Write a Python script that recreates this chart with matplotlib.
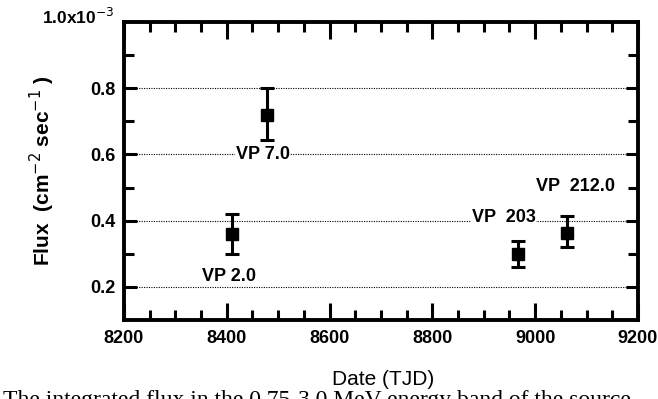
import numpy as np
import matplotlib
matplotlib.use('Agg')
import matplotlib.pyplot as plt
from matplotlib.ticker import MultipleLocator

# observations (flux in units of 1e-3 cm^-2 s^-1)
dates = [8411, 8478, 8966, 9061]
flux = [0.36, 0.718, 0.30, 0.364]
err_lo = [0.06, 0.075, 0.04, 0.044]
err_hi = [0.06, 0.082, 0.04, 0.050]
labels = ['VP 2.0', 'VP 7.0', 'VP  203', 'VP  212.0']
label_x = [8405, 8470, 8939, 9079]
label_y = [0.232, 0.60, 0.41, 0.502]

plt.rcParams['font.family'] = ['Liberation Sans', 'DejaVu Sans']

fig = plt.figure(figsize=(6.58, 3.99), dpi=100)
ax = fig.add_axes([0.1884, 0.198, 0.7812, 0.7471])

ax.errorbar(dates, flux, yerr=[err_lo, err_hi], fmt='s', color='k',
            markersize=9, elinewidth=2.2, capsize=5, capthick=2.2)

for t, x, y in zip(labels, label_x, label_y):
    ax.text(x, y, t, ha='center', va='center', fontsize=13, fontweight='bold',
            bbox=dict(facecolor='white', edgecolor='none', pad=0.5))

for y in [0.2, 0.4, 0.6, 0.8]:
    ax.axhline(y, color='k', linestyle=(0, (1, 1.2)), linewidth=0.8, zorder=0)

ax.set_xlim(8200, 9200)
ax.set_ylim(0.1, 1.0)
ax.xaxis.set_major_locator(MultipleLocator(200))
ax.xaxis.set_minor_locator(MultipleLocator(50))
ax.set_yticks([0.2, 0.4, 0.6, 0.8])
ax.set_yticks([0.3, 0.5, 0.7, 0.9], minor=True)
ax.tick_params(which='both', direction='in', top=True, right=True, width=2.2)
ax.tick_params(which='major', length=12, labelsize=13)
ax.tick_params(which='minor', length=7)
ax.tick_params(axis='y', which='major', length=9)
ax.tick_params(axis='x', pad=7)
ax.tick_params(axis='y', pad=6)
for lab in ax.get_xticklabels() + ax.get_yticklabels():
    lab.set_fontweight('bold')
for s in ax.spines.values():
    s.set_linewidth(2.8)

fig.text(0.118, 0.958, '1.0x10$^{-3}$', ha='center', va='center',
         fontsize=12.5, fontweight='bold')
ax.set_ylabel('Flux  (cm$^{-2}$ sec$^{-1}$ )', fontsize=15, fontweight='bold',
              labelpad=24)
fig.text(0.583, 0.048, 'Date (TJD)', ha='center', va='center', fontsize=15)
fig.text(0.005, 0.022, 'The integrated flux in the 0.75-3.0 MeV energy band of the source',
         ha='left', va='top', fontsize=17, family='Liberation Serif')

fig.savefig('out.png', dpi=100)
